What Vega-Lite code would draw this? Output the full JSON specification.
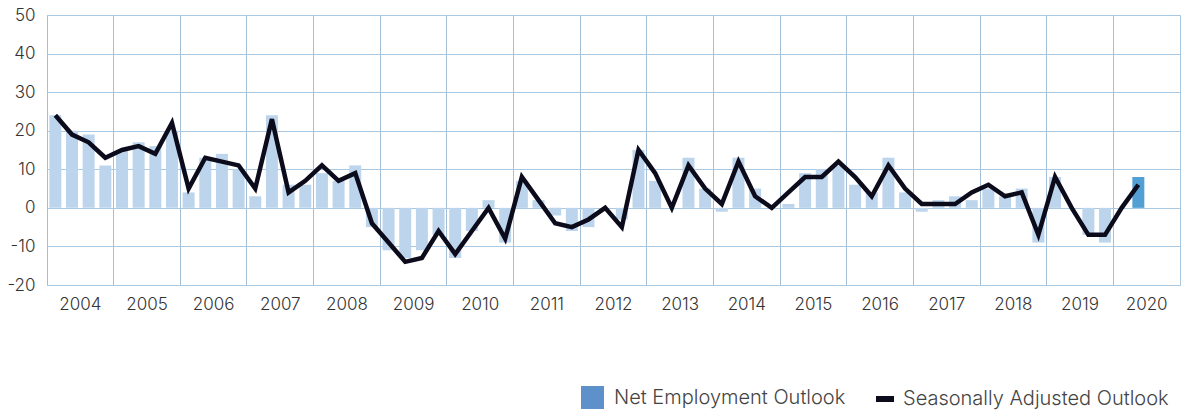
{
  "$schema": "https://vega.github.io/schema/vega-lite/v6.json",
  "width": 1133,
  "height": 270,
  "autosize": {"type": "none"},
  "padding": {"left": 47, "top": 15, "right": 1, "bottom": 131},
  "config": {
    "view": {"stroke": "#a9c8e2", "strokeWidth": 1},
    "font": "Inter",
    "axis": {"labelFont": "Inter", "labelFontSize": 17, "labelFontWeight": 300, "labelColor": "#333333", "ticks": false, "domain": false, "gridColor": "#a9c8e2", "gridWidth": 1, "gridOpacity": 1},
    "legend": {"labelFont": "Inter", "labelFontSize": 20, "labelFontWeight": 300, "labelColor": "#444444", "padding": 0, "labelLimit": 0}
  },
  "data": {
    "values": [
      {"q": "2004 Q1", "net": 24, "adj": 24},
      {"q": "2004 Q2", "net": 20, "adj": 19},
      {"q": "2004 Q3", "net": 19, "adj": 17},
      {"q": "2004 Q4", "net": 11, "adj": 13},
      {"q": "2005 Q1", "net": 15, "adj": 15},
      {"q": "2005 Q2", "net": 17, "adj": 16},
      {"q": "2005 Q3", "net": 16, "adj": 14},
      {"q": "2005 Q4", "net": 20, "adj": 22},
      {"q": "2006 Q1", "net": 4, "adj": 5},
      {"q": "2006 Q2", "net": 13, "adj": 13},
      {"q": "2006 Q3", "net": 14, "adj": 12},
      {"q": "2006 Q4", "net": 10, "adj": 11},
      {"q": "2007 Q1", "net": 3, "adj": 5},
      {"q": "2007 Q2", "net": 24, "adj": 23},
      {"q": "2007 Q3", "net": 6, "adj": 4},
      {"q": "2007 Q4", "net": 6, "adj": 7},
      {"q": "2008 Q1", "net": 9, "adj": 11},
      {"q": "2008 Q2", "net": 7, "adj": 7},
      {"q": "2008 Q3", "net": 11, "adj": 9},
      {"q": "2008 Q4", "net": -5, "adj": -4},
      {"q": "2009 Q1", "net": -11, "adj": -9},
      {"q": "2009 Q2", "net": -13, "adj": -14},
      {"q": "2009 Q3", "net": -11, "adj": -13},
      {"q": "2009 Q4", "net": -7, "adj": -6},
      {"q": "2010 Q1", "net": -13, "adj": -12},
      {"q": "2010 Q2", "net": -6, "adj": -6},
      {"q": "2010 Q3", "net": 2, "adj": 0},
      {"q": "2010 Q4", "net": -9, "adj": -8},
      {"q": "2011 Q1", "net": 7, "adj": 8},
      {"q": "2011 Q2", "net": 2, "adj": 2},
      {"q": "2011 Q3", "net": -2, "adj": -4},
      {"q": "2011 Q4", "net": -6, "adj": -5},
      {"q": "2012 Q1", "net": -5, "adj": -3},
      {"q": "2012 Q2", "net": 0, "adj": 0},
      {"q": "2012 Q3", "net": -3, "adj": -5},
      {"q": "2012 Q4", "net": 15, "adj": 15},
      {"q": "2013 Q1", "net": 7, "adj": 9},
      {"q": "2013 Q2", "net": 0, "adj": 0},
      {"q": "2013 Q3", "net": 13, "adj": 11},
      {"q": "2013 Q4", "net": 5, "adj": 5},
      {"q": "2014 Q1", "net": -1, "adj": 1},
      {"q": "2014 Q2", "net": 13, "adj": 12},
      {"q": "2014 Q3", "net": 5, "adj": 3},
      {"q": "2014 Q4", "net": 0, "adj": 0},
      {"q": "2015 Q1", "net": 1, "adj": 4},
      {"q": "2015 Q2", "net": 9, "adj": 8},
      {"q": "2015 Q3", "net": 10, "adj": 8},
      {"q": "2015 Q4", "net": 11, "adj": 12},
      {"q": "2016 Q1", "net": 6, "adj": 8},
      {"q": "2016 Q2", "net": 4, "adj": 3},
      {"q": "2016 Q3", "net": 13, "adj": 11},
      {"q": "2016 Q4", "net": 4, "adj": 5},
      {"q": "2017 Q1", "net": -1, "adj": 1},
      {"q": "2017 Q2", "net": 2, "adj": 1},
      {"q": "2017 Q3", "net": 3, "adj": 1},
      {"q": "2017 Q4", "net": 2, "adj": 4},
      {"q": "2018 Q1", "net": 5, "adj": 6},
      {"q": "2018 Q2", "net": 3, "adj": 3},
      {"q": "2018 Q3", "net": 5, "adj": 4},
      {"q": "2018 Q4", "net": -9, "adj": -7},
      {"q": "2019 Q1", "net": 8, "adj": 8},
      {"q": "2019 Q2", "net": 0, "adj": 0},
      {"q": "2019 Q3", "net": -7, "adj": -7},
      {"q": "2019 Q4", "net": -9, "adj": -7},
      {"q": "2020 Q1", "net": 0, "adj": 0},
      {"q": "2020 Q2", "net": 8, "adj": 6}
    ]
  },
  "encoding": {
    "x": {
      "field": "q",
      "type": "ordinal",
      "scale": {
        "domain": ["2004 Q1","2004 Q2","2004 Q3","2004 Q4","2005 Q1","2005 Q2","2005 Q3","2005 Q4","2006 Q1","2006 Q2","2006 Q3","2006 Q4","2007 Q1","2007 Q2","2007 Q3","2007 Q4","2008 Q1","2008 Q2","2008 Q3","2008 Q4","2009 Q1","2009 Q2","2009 Q3","2009 Q4","2010 Q1","2010 Q2","2010 Q3","2010 Q4","2011 Q1","2011 Q2","2011 Q3","2011 Q4","2012 Q1","2012 Q2","2012 Q3","2012 Q4","2013 Q1","2013 Q2","2013 Q3","2013 Q4","2014 Q1","2014 Q2","2014 Q3","2014 Q4","2015 Q1","2015 Q2","2015 Q3","2015 Q4","2016 Q1","2016 Q2","2016 Q3","2016 Q4","2017 Q1","2017 Q2","2017 Q3","2017 Q4","2018 Q1","2018 Q2","2018 Q3","2018 Q4","2019 Q1","2019 Q2","2019 Q3","2019 Q4","2020 Q1","2020 Q2","2020 Q3","2020 Q4"],
        "paddingInner": 0,
        "paddingOuter": 0
      },
      "axis": {
        "title": null,
        "bandPosition": 0,
        "labelAngle": 0,
        "labelPadding": 11,
        "labelOffset": -8.33,
        "labelOverlap": false,
        "labelBound": false,
        "labelExpr": "indexof(datum.value, 'Q3') > 0 ? slice(datum.value, 0, 4) : ''",
        "grid": true,
        "gridColor": {"condition": {"test": "indexof(datum.value, 'Q1') > 0", "value": "#a3c0d8"}, "value": "transparent"}
      }
    }
  },
  "layer": [
    {
      "mark": {"type": "bar", "width": {"band": 0.72}},
      "encoding": {
        "y": {
          "field": "net",
          "type": "quantitative",
          "scale": {"domain": [-20, 50], "nice": false},
          "axis": {"title": null, "values": [-20, -10, 0, 10, 20, 30, 40, 50], "labelPadding": 12, "labelOverlap": false, "grid": true, "labelExpr": "'' + datum.value"}
        },
        "fill": {
          "condition": {"test": "datum.q === '2020 Q2'", "value": "#519fd5"},
          "value": "#bdd5ec"
        }
      }
    },
    {
      "mark": {"type": "square", "filled": true},
      "transform": [{"filter": "false"}],
      "encoding": {
        "fill": {
          "datum": "Net Employment Outlook",
          "scale": {"range": ["#5e90c9"]},
          "legend": {
            "title": null,
            "orient": "none",
            "legendX": 533,
            "legendY": 370,
            "symbolType": "square",
            "symbolSize": 529,
            "symbolOpacity": 1,
            "labelOffset": 9
          }
        }
      }
    },
    {
      "mark": {"type": "rule", "color": "#111111", "strokeWidth": 2},
      "encoding": {
        "y": {"datum": 0, "type": "quantitative", "axis": {"title": null, "values": [-20, -10, 0, 10, 20, 30, 40, 50], "labelPadding": 12, "labelOverlap": false, "grid": true, "labelExpr": "'' + datum.value"}}
      }
    },
    {
      "mark": {"type": "line", "strokeWidth": 4.5},
      "encoding": {
        "y": {"field": "adj", "type": "quantitative", "axis": {"title": null, "values": [-20, -10, 0, 10, 20, 30, 40, 50], "labelPadding": 12, "labelOverlap": false, "grid": true, "labelExpr": "'' + datum.value"}},
        "stroke": {
          "datum": "Seasonally Adjusted Outlook",
          "scale": {"range": ["#0b0b1c"]},
          "legend": {
            "title": null,
            "orient": "none",
            "legendX": 826,
            "legendY": 372,
            "symbolType": "stroke",
            "symbolSize": 324,
            "symbolStrokeWidth": 6,
            "labelOffset": 6
          }
        }
      }
    }
  ]
}
